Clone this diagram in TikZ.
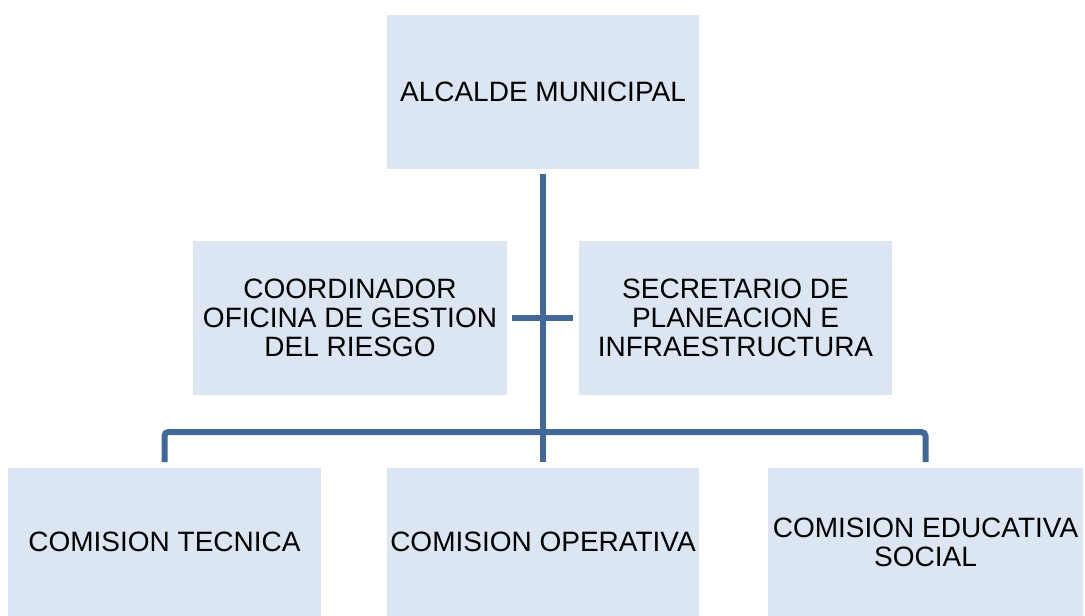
\documentclass[tikz,border=0pt]{standalone}
\usepackage{fontspec}
\setmainfont{Liberation Sans}
\definecolor{boxfill}{RGB}{220,230,242}
\definecolor{linkblue}{RGB}{66,104,153}

\begin{document}
\begin{tikzpicture}[x=0.75pt, y=-0.75pt,
    cargo/.style={fill=boxfill, draw=none, align=center, inner sep=0pt,
      minimum width=234pt, minimum height=115pt,
      font=\fontsize{21}{21.75}\selectfont},
    comision/.style={cargo, minimum height=110.5pt},
    link/.style={draw=linkblue, line width=4.5pt}]
    % Canvas (pixel units, y down)
    \useasboundingbox (0,0) rectangle (1085,615);

    % Top level
    \node[cargo] (alcalde) at (543,92) {ALCALDE MUNICIPAL};

    % Staff level
    \node[cargo, minimum width=235.5pt] (coordinador) at (350,318)
      {COORDINADOR\\OFICINA DE GESTION\\DEL RIESGO};
    \node[cargo, minimum width=234.75pt] (secretario) at (735.5,318)
      {SECRETARIO DE\\PLANEACION E\\INFRAESTRUCTURA};

    % Commissions
    \node[comision, minimum width=234.75pt] (tecnica) at (164.5,542) {COMISION TECNICA};
    \node[comision] (operativa) at (543,542) {COMISION OPERATIVA};
    \node[comision, minimum width=236.25pt] (educativa) at (925.5,542)
      {COMISION EDUCATIVA\\SOCIAL};

    % Connectors
    \coordinate (bar) at (543,432);
    \draw[link, shorten <=3.75pt, shorten >=4.5pt] (alcalde) -- (operativa);
    \draw[link, shorten <=3.75pt, shorten >=4.5pt] (coordinador) -- (secretario);
    \draw[link, rounded corners=3pt, shorten <=4.5pt, shorten >=4.5pt]
      (tecnica.north) |- (bar) -| (educativa.north);
  \end{tikzpicture}
\end{document}
